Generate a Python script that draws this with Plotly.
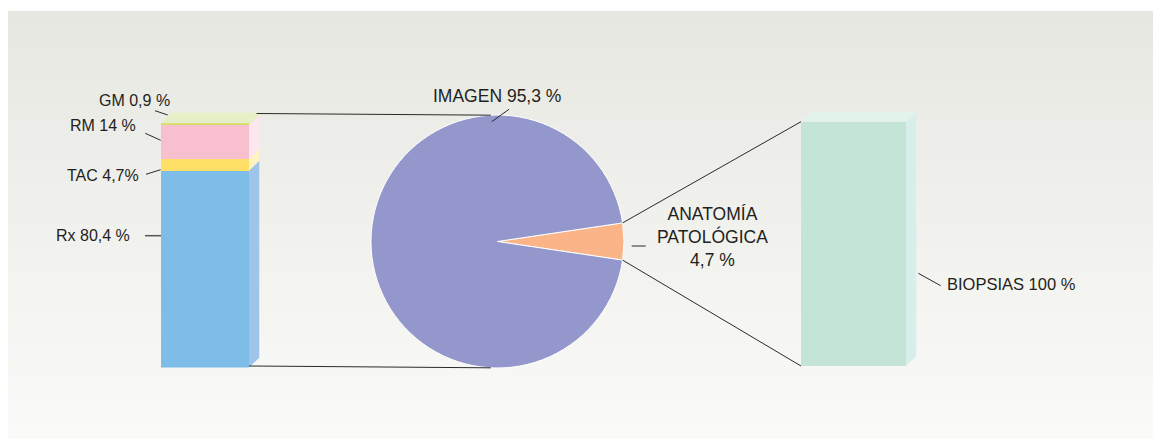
import math
import plotly.graph_objects as go

# ---------------- data ----------------
left_labels = ["Rx", "TAC", "RM", "GM"]
left_values = [80.4, 4.7, 14, 0.9]
left_text = ["Rx 80,4 %", "TAC 4,7%", "RM 14 %", "GM 0,9 %"]
left_colors = ["#7dbde8", "#ffe066", "#f8c0cf", "#d6e06a"]
left_side_colors = ["#9ec4e9", "#fff3c2", "#fde7ee", "#e6f0c6"]

pie_labels = ["ANATOMÍA PATOLÓGICA", "IMAGEN"]
pie_values = [4.7, 95.3]
pie_text = ["ANATOMÍA<br>PATOLÓGICA<br>4,7 %", "IMAGEN 95,3 %"]
pie_colors = ["#fbb487", "#9497cb"]

right_labels = ["BIOPSIAS"]
right_values = [100]
right_text = ["BIOPSIAS 100 %"]
right_colors = ["#c3e4d7"]
right_side_colors = ["#d8eeea"]
right_top_color = "#e2f3eb"

# ---------------- layout geometry (page pixels) ----------------
PAGE_W, PAGE_H = 1161, 439
OFF = 8                      # default body margin of the html page
W, H = PAGE_W - OFF, PAGE_H - OFF
LB = dict(x0=161, x1=249, ybot=367.5, ytop=122.5)
RB = dict(x0=801, x1=906, ybot=366, ytop=121.7)
DX, DY = 10.5, 10
PIE_CX, PIE_CY, PIE_R = 497.5, 241.5, 126.5
TXT = "#231f20"
LINE = "#2a2a2a"
FONT = "Liberation Sans, Arial, sans-serif"


def px(x):
    return (x - OFF) / W


def py(y):
    return (H - (y - OFF)) / H


fig = go.Figure()

# background gradient bands
top_c = (231, 231, 226)
bot_c = (250, 250, 248)
n_b = 60
y_start, y_end = 11, PAGE_H
shapes = []
for i in range(n_b):
    t = i / (n_b - 1)
    c = tuple(round(top_c[k] + (bot_c[k] - top_c[k]) * t) for k in range(3))
    ya = y_start + (y_end - y_start) * i / n_b
    yb = min(y_start + (y_end - y_start) * (i + 1) / n_b + 0.6, PAGE_H)
    shapes.append(dict(type="rect", xref="paper", yref="paper",
                       x0=px(8), x1=1, y0=py(yb), y1=py(ya),
                       fillcolor="rgb(%d,%d,%d)" % c, line=dict(width=0),
                       layer="below"))


def bar_axes(box, total):
    wpx = box["x1"] - box["x0"]
    hpx = box["ybot"] - box["ytop"]
    dxu = DX / wpx
    dyu = DY / hpx * total
    xa = dict(domain=[px(box["x0"]), px(box["x1"] + DX)],
              range=[-0.5, 0.5 + dxu], visible=False, fixedrange=True)
    ya = dict(domain=[py(box["ybot"]), py(box["ytop"] - DY)],
              range=[0, total + dyu], visible=False, fixedrange=True)
    return xa, ya, dxu, dyu


# ---------- left stacked bar ----------
ltotal = sum(left_values)
xa1, ya1, dxu1, dyu1 = bar_axes(LB, ltotal)
for lab, v, col in zip(left_labels, left_values, left_colors):
    fig.add_trace(go.Bar(x=[0], y=[v], name=lab, width=1,
                         marker=dict(color=col, line=dict(width=0)),
                         xaxis="x", yaxis="y", showlegend=False,
                         hoverinfo="skip"))
base = 0
for v, sc in zip(left_values, left_side_colors):
    b, t = base, base + v
    path = "M 0.5 %f L %f %f L %f %f L 0.5 %f Z" % (b, 0.5 + dxu1, b + dyu1,
                                                   0.5 + dxu1, t + dyu1, t)
    shapes.append(dict(type="path", xref="x", yref="y", path=path,
                       fillcolor=sc, line=dict(width=0), layer="above"))
    base = t
path = "M -0.5 %f L %f %f L %f %f L 0.5 %f Z" % (ltotal, -0.5 + dxu1, ltotal + dyu1,
                                                0.5 + dxu1, ltotal + dyu1, ltotal)
shapes.append(dict(type="path", xref="x", yref="y", path=path,
                   fillcolor=left_side_colors[-1], line=dict(width=0), layer="above"))

# ---------- right bar ----------
rtotal = sum(right_values)
xa2, ya2, dxu2, dyu2 = bar_axes(RB, rtotal)
for lab, v, col in zip(right_labels, right_values, right_colors):
    fig.add_trace(go.Bar(x=[0], y=[v], name=lab, width=1,
                         marker=dict(color=col, line=dict(width=0)),
                         xaxis="x2", yaxis="y2", showlegend=False,
                         hoverinfo="skip"))
path = "M 0.5 0 L %f %f L %f %f L 0.5 %f Z" % (0.5 + dxu2, dyu2, 0.5 + dxu2,
                                              rtotal + dyu2, rtotal)
shapes.append(dict(type="path", xref="x2", yref="y2", path=path,
                   fillcolor=right_side_colors[0], line=dict(width=0), layer="above"))
path = "M -0.5 %f L %f %f L %f %f L 0.5 %f Z" % (rtotal, -0.5 + dxu2, rtotal + dyu2,
                                                0.5 + dxu2, rtotal + dyu2, rtotal)
shapes.append(dict(type="path", xref="x2", yref="y2", path=path,
                   fillcolor=right_top_color, line=dict(width=0), layer="above"))

# ---------- pie ----------
ptotal = sum(pie_values)
half = 360 * pie_values[0] / ptotal / 2
fig.add_trace(go.Pie(values=pie_values, labels=pie_labels, sort=False,
                     direction="clockwise", rotation=90 - half,
                     marker=dict(colors=pie_colors, line=dict(color="white", width=1)),
                     textinfo="none", hoverinfo="skip", showlegend=False,
                     domain=dict(x=[px(PIE_CX - PIE_R), px(PIE_CX + PIE_R)],
                                 y=[py(PIE_CY + PIE_R), py(PIE_CY - PIE_R)])))


def on_circle(deg):
    a = math.radians(deg)
    return PIE_CX + PIE_R * math.sin(a), PIE_CY - PIE_R * math.cos(a)


def seg(p, q, color=LINE, width=1):
    shapes.append(dict(type="line", xref="paper", yref="paper",
                       x0=px(p[0]), y0=py(p[1]), x1=px(q[0]), y1=py(q[1]),
                       line=dict(color=color, width=width), layer="above"))


# connectors
seg((LB["x1"] + DX - 3, LB["ytop"] - DY + 1), on_circle(-3))
seg((LB["x1"], LB["ybot"] - 1.5), on_circle(183))
seg(on_circle(90 - half), (RB["x0"], RB["ytop"]))
seg(on_circle(90 + half), (RB["x0"], RB["ybot"]))

# leader lines
seg((155, 110.7), (167.7, 115))
seg((145.3, 133.3), (160.7, 140.3))
seg((146, 174.3), (160.7, 169.7))
seg((145, 235.7), (161, 235.7), color="#555", width=1.5)
seg((491.7, 121.7), (509, 109.3))
seg((631.7, 246), (645.7, 246))
seg((918.3, 273.3), (940.7, 285.7))

annotations = []


def label(text, x, y, xanchor, size):
    annotations.append(dict(text=text, x=px(x), y=py(y), xref="paper", yref="paper",
                            xanchor=xanchor, yanchor="middle", showarrow=False,
                            borderpad=0, align="center",
                            font=dict(family=FONT, size=size, color=TXT)))


label(left_text[3], 171, 100, "right", 16)
label(left_text[2], 137, 126, "right", 16)
label(left_text[1], 139.5, 175, "right", 16)
label(left_text[0], 131, 235.5, "right", 16)
label(pie_text[1], 432, 96, "left", 17.5)
label(pie_text[0], 712.5, 237, "center", 17.5)
label(right_text[0], 946.5, 283.5, "left", 16.5)

fig.update_layout(
    width=W, height=H, margin=dict(l=0, r=0, t=0, b=0),
    paper_bgcolor="white", plot_bgcolor="rgba(0,0,0,0)",
    barmode="stack", showlegend=False,
    xaxis=dict(xa1, anchor="y"), yaxis=dict(ya1, anchor="x"),
    xaxis2=dict(xa2, anchor="y2"), yaxis2=dict(ya2, anchor="x2"),
    shapes=shapes, annotations=annotations,
)

fig.write_html("out.html", config=dict(displayModeBar=False))
